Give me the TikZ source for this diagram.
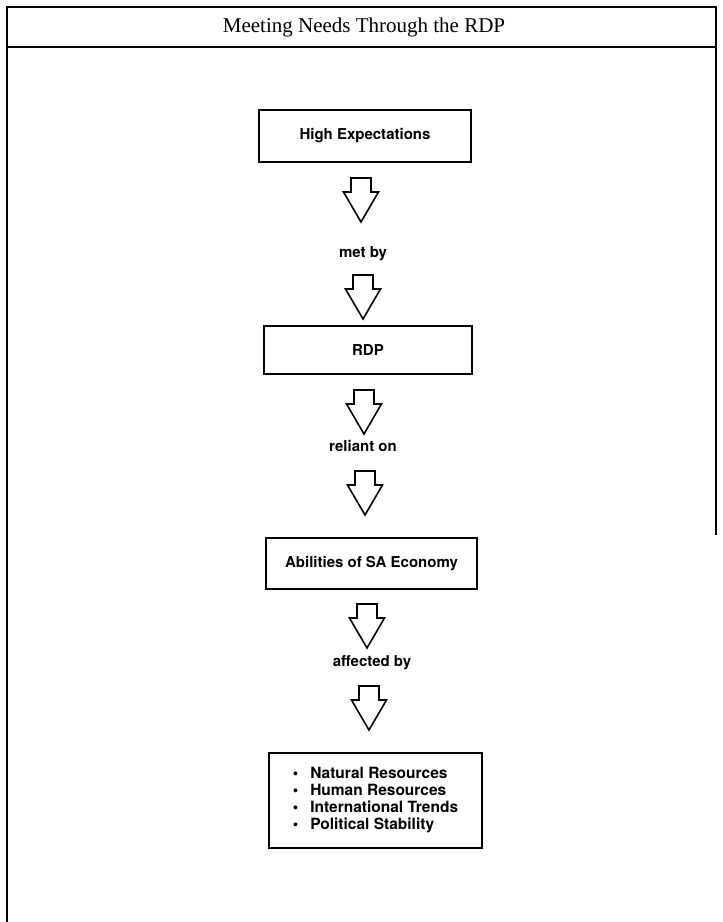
\documentclass[tikz,border=0pt]{standalone}
\usepackage{fontspec}
\setmainfont{Liberation Serif}
\setsansfont{TeX Gyre Heros}
\usetikzlibrary{positioning}

\tikzset{
  frameline/.style={line width=2.2},
  boxnode/.style={draw,line width=1.6,font=\sffamily\bfseries\fontsize{15}{17}\selectfont,inner sep=0.75pt},
  linklabel/.style={font=\sffamily\bfseries\fontsize{15}{17}\selectfont,inner sep=0.75pt},
  downarr/.pic={\draw[line width=1.6,line join=miter] (-10,0) -- (10,0) -- (10,-14) -- (17.5,-14) -- (0,-44) -- (-17.5,-14) -- (-10,-14) -- cycle;}
}

\begin{document}
\begin{tikzpicture}[x=1pt,y=1pt,yscale=-1,xscale=1]
\useasboundingbox (0,0) rectangle (723,922);

%Frame
\draw [frameline] (7,922) -- (7,7) -- (716,7) -- (716,535) ;
%Title rule
\draw [frameline] (7,47) -- (716,47) ;

% Text Node
\node (title) at (364,27) [font=\fontsize{21}{24}\selectfont] {Meeting Needs Through the RDP};

% Boxes
\node (hexp) at (365,136) [boxnode,minimum width=212pt,minimum height=52pt] {High Expectations};
\node (rdp) at (368,350) [boxnode,minimum width=208pt,minimum height=48pt] {RDP};
\node (econ) at (371.5,563.5) [boxnode,minimum width=211pt,minimum height=51pt] {Abilities of SA Economy};
\node (factors) at (375.5,800.5) [boxnode,minimum width=213pt,minimum height=95pt,align=left,font=\sffamily\bfseries\fontsize{15.5}{17}\selectfont] {\textbullet\hspace{12pt}Natural Resources\\ \textbullet\hspace{12pt}Human Resources\\ \textbullet\hspace{12pt}International Trends\\ \textbullet\hspace{12pt}Political Stability};

% Text Node
\node (metby) at (363,254) [linklabel] {met by};
% Text Node
\node (reliant) at (363,446) [linklabel] {reliant on};
% Text Node
\node (affect) at (372,663) [linklabel] {affected by};

% Block arrows
\pic at (361,178) {downarr};
\pic at (363,275) {downarr};
\pic at (364,390) {downarr};
\pic at (365,471) {downarr};
\pic at (367,604) {downarr};
\pic at (369,686) {downarr};

\end{tikzpicture}
\end{document}
